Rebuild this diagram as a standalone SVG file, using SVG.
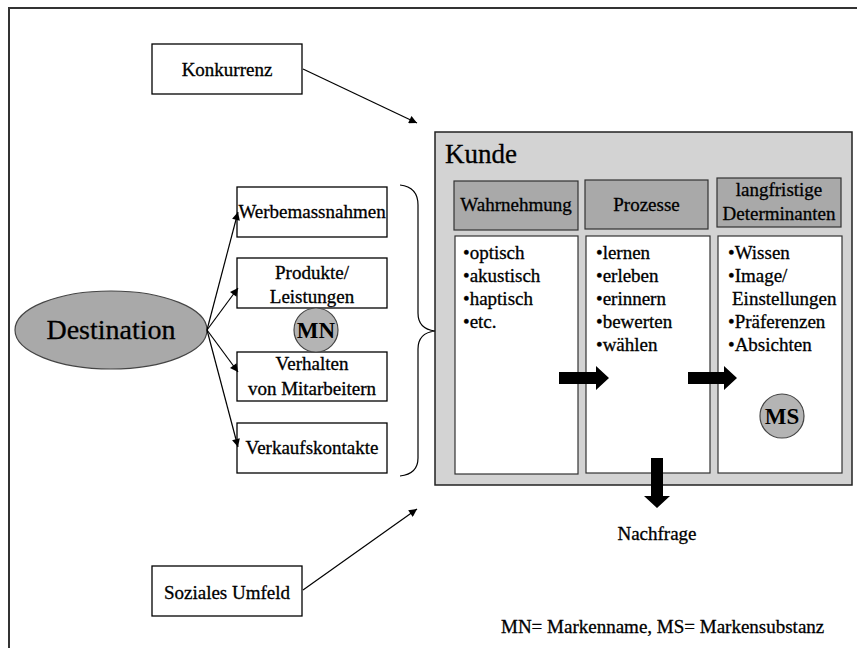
<svg xmlns="http://www.w3.org/2000/svg" width="857" height="648" viewBox="0 0 857 648">
  <defs>
    <marker id="tip" viewBox="0 0 10 10" refX="10" refY="5" markerWidth="10" markerHeight="8" markerUnits="userSpaceOnUse" orient="auto">
      <path d="M0,0 L10,5 L0,10 z" fill="#000"/>
    </marker>
    <style>
      text { stroke: #000; stroke-width: 0.3; }
      .c { text-anchor: middle; }
      .box { fill: #fff; stroke: #000; stroke-width: 1.3; }
      .head { fill: #a9a9a9; stroke: #333; stroke-width: 1.2; }
      .col { fill: #fff; stroke: #333; stroke-width: 1.2; }
      .badge { fill: #b4b4b4; stroke: #444; stroke-width: 1.2; }
      .badge-t { font-weight: bold; font-size: 23px; text-anchor: middle; stroke-width: 0; }
      .link { fill: none; stroke: #000; stroke-width: 1.2; marker-end: url(#tip); }
      .fat { fill: #000; }
    </style>
  </defs>

  <rect width="857" height="648" fill="#fff"/>

  <g font-family="'Liberation Serif', 'Times New Roman', 'DejaVu Serif', serif" font-size="19" fill="#000">

  <!-- page frame (top and left edges) -->
  <path d="M9,648 V8 H857" fill="none" stroke="#333" stroke-width="2"/>

  <!-- customer panel -->
  <g id="kunde">
    <rect x="435" y="132" width="417" height="353" fill="#d3d3d3" stroke="#222" stroke-width="1.5"/>
    <text x="445" y="163" font-size="27">Kunde</text>
  </g>

  <g id="wahrnehmung">
    <rect class="head" x="454" y="181" width="124" height="49"/>
    <text class="c" x="516" y="211">Wahrnehmung</text>
    <rect class="col" x="455" y="236" width="123" height="238"/>
    <text x="463" y="259">•optisch</text>
    <text x="463" y="282">•akustisch</text>
    <text x="463" y="305">•haptisch</text>
    <text x="463" y="328">•etc.</text>
  </g>

  <g id="prozesse">
    <rect class="head" x="585" y="180" width="123" height="49"/>
    <text class="c" x="646.5" y="211">Prozesse</text>
    <rect class="col" x="586" y="236" width="124" height="237"/>
    <text x="596" y="259">•lernen</text>
    <text x="596" y="282">•erleben</text>
    <text x="596" y="305">•erinnern</text>
    <text x="596" y="328">•bewerten</text>
    <text x="596" y="351">•wählen</text>
  </g>

  <g id="determinanten">
    <rect class="head" x="717" y="178" width="124" height="49"/>
    <text class="c" x="779" y="196">langfristige</text>
    <text class="c" x="779" y="220">Determinanten</text>
    <rect class="col" x="718" y="236" width="124" height="237"/>
    <text x="728" y="259">•Wissen</text>
    <text x="728" y="282">•Image/</text>
    <text x="732" y="305">Einstellungen</text>
    <text x="728" y="328">•Präferenzen</text>
    <text x="728" y="351">•Absichten</text>
  </g>

  <g id="ms">
    <circle class="badge" cx="782" cy="416" r="22"/>
    <text class="badge-t" x="782" y="424">MS</text>
  </g>

  <!-- external influences -->
  <g id="konkurrenz">
    <rect class="box" x="152" y="44" width="150" height="50"/>
    <text class="c" x="227" y="76">Konkurrenz</text>
  </g>

  <g id="soziales-umfeld">
    <rect class="box" x="152" y="566" width="150" height="50"/>
    <text class="c" x="227" y="599">Soziales Umfeld</text>
  </g>

  <!-- destination and its touchpoints -->
  <g id="destination">
    <ellipse cx="111" cy="330" rx="96" ry="39" fill="#a9a9a9" stroke="#444" stroke-width="1.2"/>
    <text class="c" x="111" y="339" font-size="28">Destination</text>
  </g>

  <g id="werbemassnahmen">
    <rect class="box" x="237" y="187" width="150" height="50"/>
    <text class="c" x="312" y="218">Werbemassnahmen</text>
  </g>

  <g id="produkte">
    <rect class="box" x="237" y="258" width="150" height="50"/>
    <text class="c" x="312" y="279">Produkte/</text>
    <text class="c" x="312" y="303">Leistungen</text>
  </g>

  <g id="verhalten">
    <rect class="box" x="237" y="352" width="150" height="49"/>
    <text class="c" x="312" y="370">Verhalten</text>
    <text class="c" x="312" y="395">von Mitarbeitern</text>
  </g>

  <g id="verkaufskontakte">
    <rect class="box" x="237" y="423" width="150" height="50"/>
    <text class="c" x="312" y="454">Verkaufskontakte</text>
  </g>

  <g id="mn">
    <circle class="badge" cx="316" cy="330" r="22"/>
    <text class="badge-t" x="316" y="338">MN</text>
  </g>

  <g id="nachfrage">
    <text class="c" x="657" y="540">Nachfrage</text>
  </g>

  <g id="legende">
    <text x="501" y="633">MN= Markenname, MS= Markensubstanz</text>
  </g>

  <!-- connectors -->
  <g id="connectors">
    <line class="link" x1="303" y1="69" x2="417" y2="123"/>
    <line class="link" x1="303" y1="590" x2="417" y2="509"/>
    <line class="link" x1="207" y1="330" x2="238" y2="212"/>
    <line class="link" x1="207" y1="330" x2="238" y2="288"/>
    <line class="link" x1="207" y1="330" x2="238" y2="372"/>
    <line class="link" x1="207" y1="330" x2="238" y2="447"/>
    <!-- brace grouping the touchpoints -->
    <path d="M400,185 Q418,187 418,205 V313 Q418,329 435,331 Q418,333 418,349 V458 Q418,474 400,476" fill="none" stroke="#000" stroke-width="1.2"/>
    <!-- block arrows -->
    <path class="fat" d="M559,372 H596 V366 L609,378 L596,390 V384 H559 Z"/>
    <path class="fat" d="M688,372 H724 V366 L737,378 L724,390 V384 H688 Z"/>
    <path class="fat" d="M651,458 H663 V496 H670 L657,508 L644,496 H651 Z"/>
  </g>
  </g>
</svg>
